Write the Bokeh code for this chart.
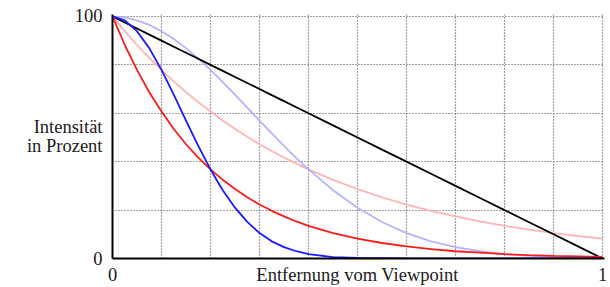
from bokeh.plotting import figure
from bokeh.models import FixedTicker
from bokeh.embed import file_html
from bokeh.resources import INLINE

# distance (fraction of view distance)
dist = [0, 0.025, 0.05, 0.075, 0.1, 0.125, 0.15, 0.175, 0.2, 0.225, 0.25, 0.275,
        0.3, 0.325, 0.35, 0.375, 0.4, 0.45, 0.5, 0.55, 0.6, 0.65, 0.7, 0.75,
        0.8, 0.85, 0.9, 0.95, 1.0]

# intensity in percent
linear = [100, 97.5, 95, 92.5, 90, 87.5, 85, 82.5, 80, 77.5, 75, 72.5,
          70, 67.5, 65, 62.5, 60, 55, 50, 45, 40, 35, 30, 25,
          20, 15, 10, 5, 0]
exp_dense = [100, 88.2, 77.9, 68.7, 60.7, 53.5, 47.2, 41.7, 36.8, 32.5, 28.7, 25.3,
             22.3, 19.7, 17.4, 15.3, 13.5, 10.5, 8.2, 6.4, 5.0, 3.9, 3.0, 2.4,
             1.8, 1.4, 1.1, 0.9, 0.7]
exp2_dense = [100, 98.4, 93.9, 86.9, 77.9, 67.7, 57.0, 46.5, 36.8, 28.2, 21.0, 15.1,
              10.5, 7.1, 4.7, 3.0, 1.8, 0.6, 0.2, 0.1, 0, 0, 0, 0,
              0, 0, 0, 0, 0]
exp_light = [100, 93.9, 88.2, 82.9, 77.9, 73.2, 68.7, 64.6, 60.7, 57.0, 53.5, 50.3,
             47.2, 44.4, 41.7, 39.2, 36.8, 32.5, 28.7, 25.3, 22.3, 19.7, 17.4, 15.3,
             13.5, 11.9, 10.5, 9.3, 8.2]
exp2_light = [100, 99.6, 98.4, 96.5, 93.9, 90.7, 86.9, 82.6, 77.9, 72.9, 67.7, 62.3,
              57.0, 51.7, 46.5, 41.5, 36.8, 28.2, 21.0, 15.1, 10.5, 7.1, 4.7, 3.0,
              1.8, 1.1, 0.6, 0.4, 0.2]

x_ticks = [0, 0.5, 1]
x_tick_labels = {0: "0", 0.5: "Entfernung vom Viewpoint", 1: "1"}
y_ticks = [0, 46.5, 54.3, 100]
y_tick_labels = {0: "0", 46.5: "in Prozent", 54.3: "Intensität", 100: "100"}
x_grid = [0.1, 0.2, 0.3, 0.4, 0.5, 0.6, 0.7, 0.8, 0.9, 1.0]
y_grid = [20, 40, 60, 80, 100]

FONT = "Liberation Serif"
TXT = "#1a1a1a"

p = figure(width=610, height=287, output_backend="svg", toolbar_location=None,
           x_range=(0, 1.004), y_range=(0, 100.8),
           min_border_left=112, min_border_right=6, min_border_top=14,
           min_border_bottom=28)
p.outline_line_color = None
p.background_fill_color = "white"

# grid
p.xgrid.ticker = FixedTicker(ticks=x_grid)
p.ygrid.ticker = FixedTicker(ticks=y_grid)
for g in (p.xgrid, p.ygrid):
    g.grid_line_color = "#444444"
    g.grid_line_dash = "1 2"
    g.grid_line_width = 1.2

# axes
p.xaxis.ticker = FixedTicker(ticks=x_ticks)
p.xaxis.major_label_overrides = x_tick_labels
p.yaxis.ticker = FixedTicker(ticks=y_ticks)
p.yaxis.major_label_overrides = y_tick_labels
for ax in (p.xaxis, p.yaxis):
    ax.axis_line_color = "black"
    ax.axis_line_width = 2
    ax.major_tick_line_color = None
    ax.minor_tick_line_color = None
    ax.major_tick_in = 0
    ax.major_tick_out = 0
    ax.major_label_text_font = FONT
    ax.major_label_text_font_size = "18.5px"
    ax.major_label_text_color = TXT
p.xaxis.major_label_standoff = 6
p.yaxis.major_label_standoff = 10

# curves
p.line(dist, exp_light, line_color="#ffb4b4", line_width=1.8)
p.line(dist, exp2_light, line_color="#b4b4ff", line_width=1.8)
p.line(dist, linear, line_color="black", line_width=1.8)
p.line(dist, exp_dense, line_color="#ff1a1a", line_width=1.8)
p.line(dist, exp2_dense, line_color="#1a1aff", line_width=1.8)

open("out.html", "w").write(file_html(p, INLINE))
